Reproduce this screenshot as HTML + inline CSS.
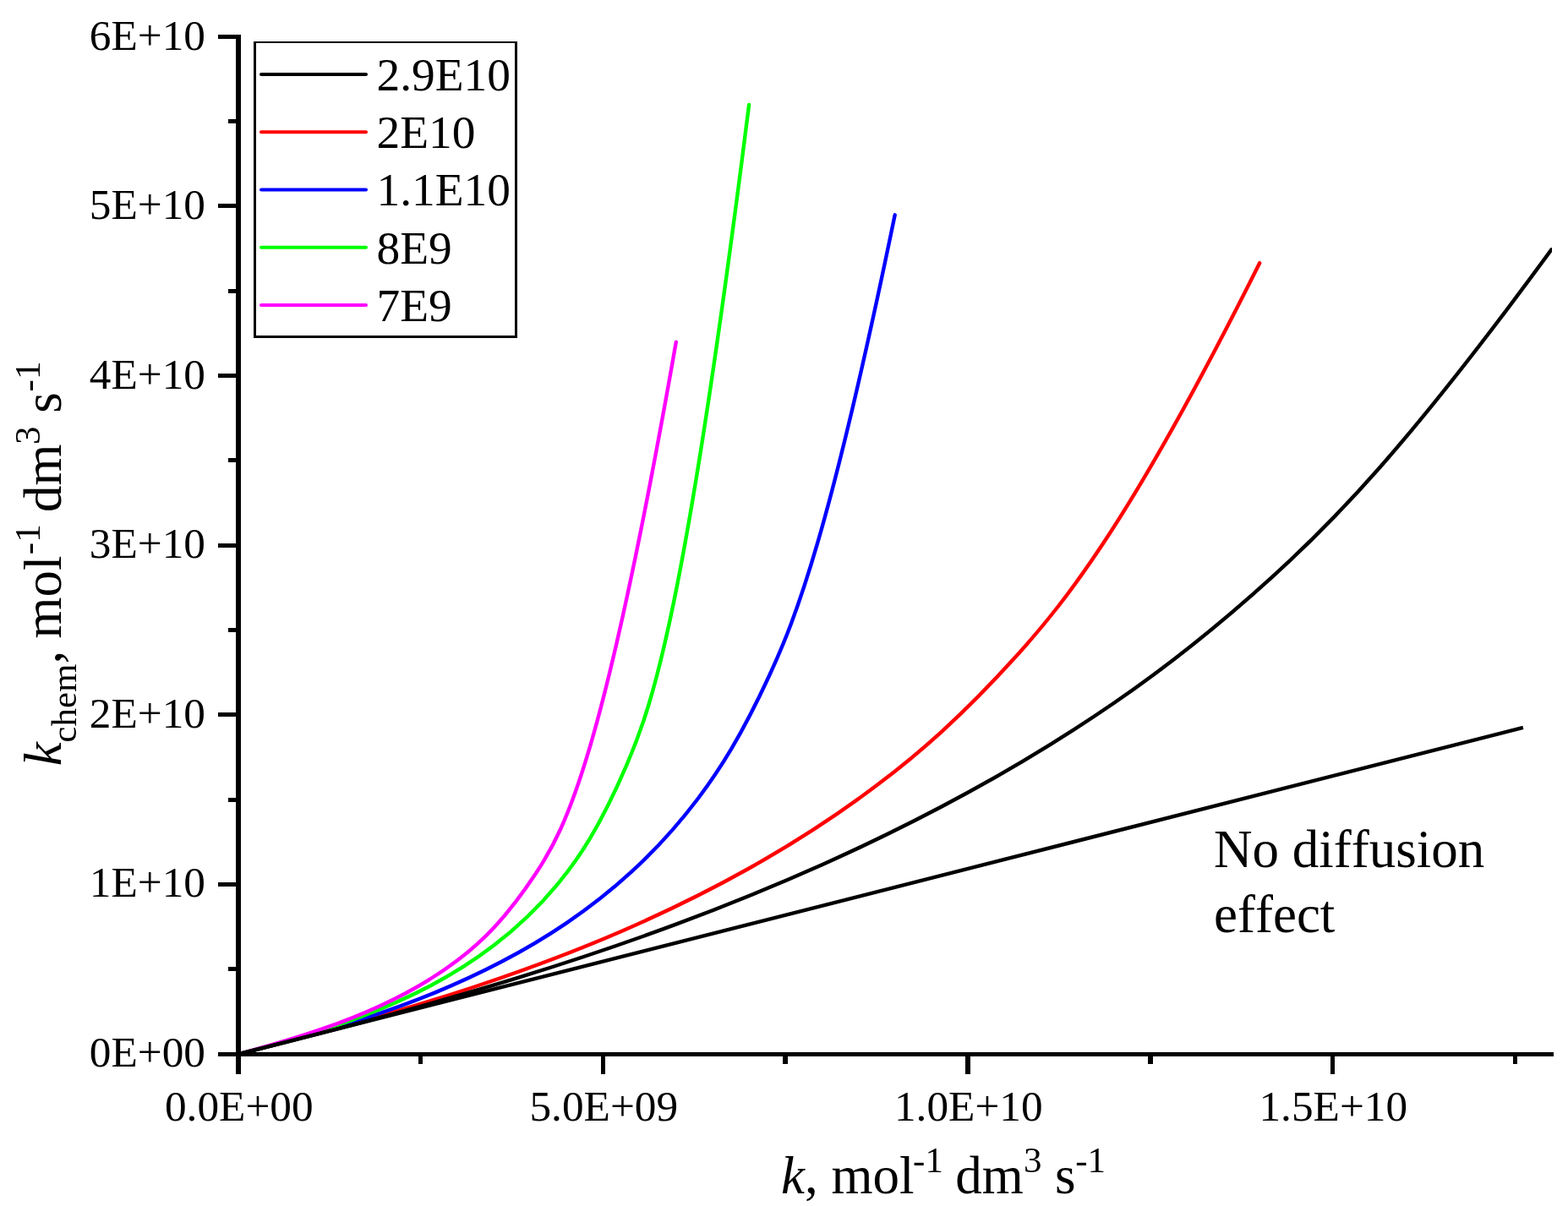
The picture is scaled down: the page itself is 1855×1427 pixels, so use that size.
<!DOCTYPE html>
<html><head><meta charset="utf-8"><title>k_chem vs k</title>
<style>
html,body{margin:0;padding:0;background:#fff;}
svg{display:block;}
text{font-variant-ligatures:none;font-kerning:none;}
</style></head>
<body>
<svg width="1855" height="1427" viewBox="0 0 1855 1427">
<defs><clipPath id="pc"><rect x="0" y="0" width="1836" height="1427"/></clipPath></defs>
<rect width="1855" height="1427" fill="#fff"/>
<g fill="none" stroke-width="4.4" stroke-linejoin="round" clip-path="url(#pc)">
<path d="M282.00,1247.30 C433.02,1208.83 508.54,1185.51 571.46,1164.24 C634.39,1142.96 684.73,1123.73 735.07,1101.91 C785.42,1080.09 835.76,1055.68 886.10,1027.47 C936.44,999.26 986.78,967.26 1037.12,929.36 C1087.47,891.46 1137.81,847.66 1200.74,778.09 C1263.66,708.51 1339.17,613.15 1490.20,311.17" stroke="#ff0000" stroke-linecap="round"/>
<path d="M282.00,1247.30 C359.67,1227.64 398.50,1215.88 430.87,1205.24 C463.23,1194.59 489.12,1185.06 515.01,1174.36 C540.90,1163.66 566.79,1151.81 592.68,1138.31 C618.57,1124.81 644.46,1109.67 670.35,1092.10 C696.24,1074.53 722.13,1054.53 748.02,1030.69 C773.91,1006.85 799.80,979.19 825.69,944.97 C851.58,910.75 877.47,869.98 909.83,800.03 C942.19,730.09 981.03,630.97 1058.70,254.33" stroke="#0000ff" stroke-linecap="round"/>
<path d="M282.00,1247.30 C357.51,1227.59 395.27,1214.98 426.73,1203.10 C458.20,1191.22 483.37,1180.07 508.54,1166.76 C533.71,1153.44 558.88,1137.96 584.05,1118.75 C609.22,1099.53 634.39,1076.57 659.56,1046.31 C684.73,1016.05 709.90,978.49 741.37,905.24 C772.83,832.00 810.59,723.07 886.10,123.94" stroke="#00ff00" stroke-linecap="round"/>
<path d="M282.00,1247.30 C368.30,1223.90 411.45,1207.51 447.41,1191.13 C483.37,1174.75 512.13,1158.37 540.90,1136.52 C569.67,1114.68 598.43,1087.38 634.39,1032.77 C670.35,978.16 713.50,896.25 799.80,404.78" stroke="#ff00ff" stroke-linecap="round"/>
<path d="M282.00,1247.30 C454.60,1204.21 540.90,1179.21 612.82,1156.94 C684.73,1134.66 742.27,1115.10 799.80,1093.68 C857.33,1072.26 914.87,1048.97 972.40,1023.23 C1029.93,997.50 1087.47,969.31 1145.00,937.80 C1202.53,906.30 1260.07,871.48 1317.60,832.02 C1375.13,792.55 1432.67,748.45 1504.58,683.14 C1576.50,617.83 1662.80,531.31 1835.40,295.36" stroke="#000000" stroke-linecap="round"/>
<path d="M282.0,1247.3 L1801.9,860.9" stroke="#000" stroke-linecap="butt"/>
</g>
<g fill="#000">
<rect x="279" y="41" width="6" height="1230"/>
<rect x="279" y="1245" width="1559" height="5"/>
<rect x="258" y="41" width="21" height="5"/>
<rect x="270" y="141" width="9" height="5"/>
<rect x="258" y="241" width="21" height="5"/>
<rect x="270" y="342" width="9" height="5"/>
<rect x="258" y="442" width="21" height="5"/>
<rect x="270" y="542" width="9" height="5"/>
<rect x="258" y="643" width="21" height="5"/>
<rect x="270" y="743" width="9" height="5"/>
<rect x="258" y="843" width="21" height="5"/>
<rect x="270" y="944" width="9" height="5"/>
<rect x="258" y="1044" width="21" height="5"/>
<rect x="270" y="1144" width="9" height="5"/>
<rect x="258" y="1245" width="21" height="5"/>
<rect x="495" y="1250" width="5" height="9"/>
<rect x="711" y="1250" width="5" height="21"/>
<rect x="926" y="1250" width="6" height="9"/>
<rect x="1142" y="1250" width="6" height="21"/>
<rect x="1358" y="1250" width="6" height="9"/>
<rect x="1574" y="1250" width="5" height="21"/>
<rect x="1790" y="1250" width="5" height="9"/>
<rect x="300" y="49" width="3" height="351"/>
<rect x="609" y="49" width="3" height="351"/>
<rect x="300" y="49" width="312" height="2"/>
<rect x="300" y="397" width="312" height="3"/>
</g>
<line x1="309" y1="88.0" x2="433" y2="88.0" stroke="#000000" stroke-width="4" stroke-linecap="round"/>
<line x1="309" y1="156.25" x2="433" y2="156.25" stroke="#ff0000" stroke-width="4" stroke-linecap="round"/>
<line x1="309" y1="224.5" x2="433" y2="224.5" stroke="#0000ff" stroke-width="4" stroke-linecap="round"/>
<line x1="309" y1="292.75" x2="433" y2="292.75" stroke="#00ff00" stroke-width="4" stroke-linecap="round"/>
<line x1="309" y1="361.0" x2="433" y2="361.0" stroke="#ff00ff" stroke-width="4" stroke-linecap="round"/>
<g font-family="Liberation Serif, serif" fill="#000">
<text x="243" y="58.8" text-anchor="end" font-size="51.3">6E+10</text>
<text x="243" y="259.3" text-anchor="end" font-size="51.3">5E+10</text>
<text x="243" y="459.8" text-anchor="end" font-size="51.3">4E+10</text>
<text x="243" y="660.3" text-anchor="end" font-size="51.3">3E+10</text>
<text x="243" y="860.8" text-anchor="end" font-size="51.3">2E+10</text>
<text x="243" y="1061.3" text-anchor="end" font-size="51.3">1E+10</text>
<text x="243" y="1261.8" text-anchor="end" font-size="51.3">0E+00</text>
<text x="282.8" y="1325.8" text-anchor="middle" font-size="51.3">0.0E+00</text>
<text x="714.3" y="1325.8" text-anchor="middle" font-size="51.3">5.0E+09</text>
<text x="1145.8" y="1325.8" text-anchor="middle" font-size="51.3">1.0E+10</text>
<text x="1577.3" y="1325.8" text-anchor="middle" font-size="51.3">1.5E+10</text>
<text x="445.5" y="106.80" font-size="55.4">2.9E10</text>
<text x="445.5" y="175.05" font-size="55.4">2E10</text>
<text x="445.5" y="243.30" font-size="55.4">1.1E10</text>
<text x="445.5" y="311.55" font-size="55.4">8E9</text>
<text x="445.5" y="379.80" font-size="55.4">7E9</text>
<text x="1436" y="1025.7" font-size="63">No diffusion</text>
<text x="1436" y="1103.3" font-size="63">effect</text>
<text font-size="63"><tspan x="924.1" y="1412.0" font-style="italic">k</tspan><tspan>,</tspan><tspan x="983.4" y="1412.0">mol</tspan><tspan x="1080.1" y="1387.2" font-size="43">-1</tspan><tspan x="1130.3" y="1412.0">dm</tspan><tspan x="1211.0" y="1387.2" font-size="43">3</tspan><tspan x="1248.1" y="1412.0">s</tspan><tspan x="1272.3" y="1387.2" font-size="43">-1</tspan></text>
<text transform="translate(72.1,0) rotate(-90)" font-size="63"><tspan x="-906.2" y="0.0" font-style="italic">k</tspan><tspan x="-878.7" y="17.5" font-size="43">chem</tspan><tspan y="0">,</tspan><tspan x="-755.5" y="0.0">mol</tspan><tspan x="-656.2" y="-25.2" font-size="43">-1</tspan><tspan x="-605.9" y="0.0">dm</tspan><tspan x="-526.0" y="-25.2" font-size="43">3</tspan><tspan x="-488.8" y="0.0">s</tspan><tspan x="-463.4" y="-25.2" font-size="43">-1</tspan></text>
</g>
</svg>
</body></html>
